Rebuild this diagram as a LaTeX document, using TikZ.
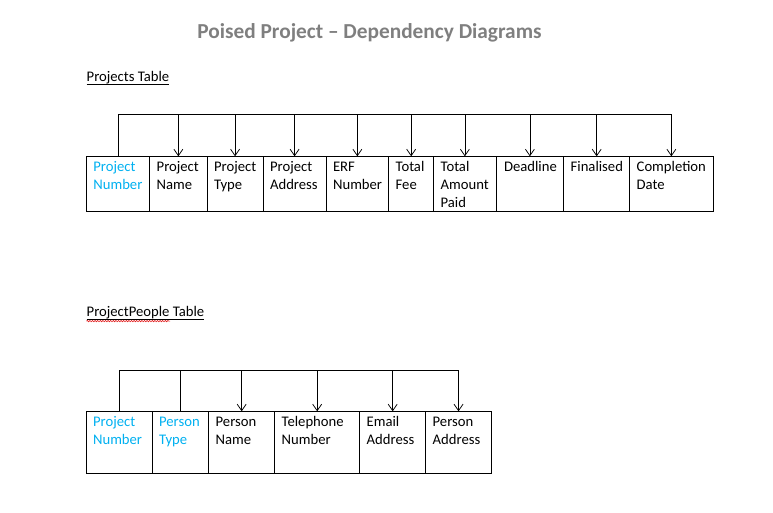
\documentclass[tikz,border=0pt]{standalone}
\usepackage{fontspec}
\setmainfont{Carlito}
\usepackage{xcolor}
\definecolor{keyblue}{RGB}{0,176,240}
\definecolor{titlegray}{RGB}{127,127,127}
\definecolor{spellred}{RGB}{225,30,30}
\usepackage{tikz}
\usetikzlibrary{arrows.meta}
\usetikzlibrary{decorations.pathmorphing}
\newcommand{\cellfont}{\fontsize{14.67}{18}\selectfont\hyphenpenalty=10000\exhyphenpenalty=10000}
\newcommand{\ulined}[1]{\setbox0\hbox{#1}\rlap{\rule[-3.4pt]{\wd0}{0.9pt}}\box0}
\tikzset{
    common/.style={anchor=west, draw, rectangle, line width=0.75pt, inner xsep=7pt, inner ysep=0pt, align=left, font=\cellfont, text height=14.7pt},
    cellA/.style={common, text width=#1, text depth=40.3pt},
    cellB/.style={common, text width=#1, text depth=46.9pt},
    key/.style={text=keyblue},
    heading/.style={anchor=base, inner sep=0pt, text=titlegray, font=\fontsize{21.33}{25}\selectfont\bfseries},
    tblname/.style={anchor=base west, inner sep=0pt, font=\cellfont},
    spell/.style={spellred, line width=0.6pt, decorate, decoration={snake, amplitude=0.7pt, segment length=2.6pt}},
    bus/.style={line width=0.75pt},
    >={Straight Barb[length=6.5pt, width=9pt]}
}
\begin{document}
\begin{tikzpicture}[x=1pt, y=1pt]
    \useasboundingbox (0,0) rectangle (773,-512);

    \node[heading] (title) at (369.5,-38) {Poised Project – Dependency Diagrams};
    \node[tblname] (A-label) at (86.5,-81) {\ulined{Projects Table}};
    \node[tblname] (B-label) at (86.5,-316.7) {\ulined{ProjectPeople Table}};
    \draw[spell] ([yshift=-4.4pt]B-label.base west) -- ++(83.5,0);

    % projects table
    \path
        (86,-184.2) node[cellA=49.3pt, key] (A-number) {Project\\Number}
        ++(0:63.3) node[cellA=43.4pt] (A-name) {Project\\Name}
        ++(0:57.4) node[cellA=42pt] (A-type) {Project\\Type}
        ++(0:56) node[cellA=49pt] (A-address) {Project\\Address}
        ++(0:63) node[cellA=48.6pt] (A-erf) {ERF\\Number}
        ++(0:62.6) node[cellA=31pt] (A-fee) {Total\\Fee}
        ++(0:45) node[cellA=48.4pt] (A-paid) {Total\\Amount\\Paid}
        ++(0:62.4) node[cellA=53.6pt, inner xsep=8pt, text width=51.6pt] (A-deadline) {Deadline}
        ++(0:67.6) node[cellA=52pt] (A-final) {Finalised}
        ++(0:66) node[cellA=69.4pt] (A-date) {Completion\\Date};

    % projectpeople table
    \path
        (85.7,-442.5) node[cellB=52pt, key] (B-number) {Project\\Number}
        ++(0:66) node[cellB=42.6pt, key] (B-type) {Person\\Type}
        ++(0:56.6) node[cellB=52pt] (B-name) {Person\\Name}
        ++(0:66) node[cellB=71pt] (B-phone) {Telephone\\Number}
        ++(0:85) node[cellB=52pt] (B-email) {Email\\Address}
        ++(0:66) node[cellB=51.7pt] (B-address) {Person\\Address};

    \coordinate (A-bus) at (0,-114.3);
    \coordinate (B-bus) at (0,-370.3);

    \draw[bus]
        (A-number.north) -- (A-number.north |- A-bus) -- (A-date.north |- A-bus)
        (B-number.north) -- (B-number.north |- B-bus) -- (B-address.north |- B-bus)
        (B-type.north |- B-bus) -- (B-type.north);

    \draw[bus]
        (A-name.north |- A-bus) edge[->] (A-name.north)
        (A-type.north |- A-bus) edge[->] (A-type.north)
        (A-address.north |- A-bus) edge[->] (A-address.north)
        (A-erf.north |- A-bus) edge[->] (A-erf.north)
        (A-fee.north |- A-bus) edge[->] (A-fee.north)
        (A-paid.north |- A-bus) edge[->] (A-paid.north)
        (A-deadline.north |- A-bus) edge[->] (A-deadline.north)
        (A-final.north |- A-bus) edge[->] (A-final.north)
        (A-date.north |- A-bus) edge[->] (A-date.north)
        (B-name.north |- B-bus) edge[->] (B-name.north)
        (B-phone.north |- B-bus) edge[->] (B-phone.north)
        (B-email.north |- B-bus) edge[->] (B-email.north)
        (B-address.north |- B-bus) edge[->] (B-address.north);
\end{tikzpicture}
\end{document}
